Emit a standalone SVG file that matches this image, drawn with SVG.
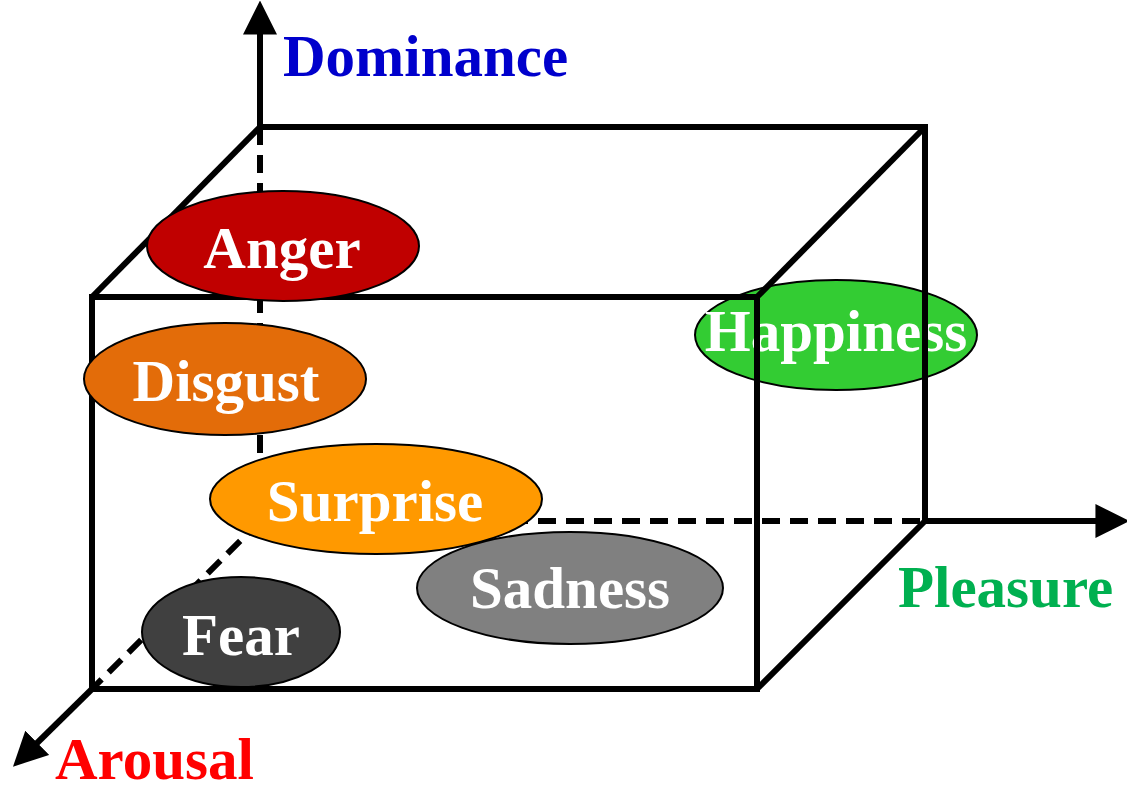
<svg xmlns="http://www.w3.org/2000/svg" width="1127" height="790" viewBox="0 0 1127 790">
<style>
.edge{stroke:#000;stroke-width:6;fill:none;stroke-linecap:butt;stroke-linejoin:miter}
.dash{stroke-dasharray:18 10}
.node{stroke:#000;stroke-width:2}
.lbl{font-family:"Liberation Serif","Times New Roman",serif;font-weight:bold;font-size:59px;fill:#fff;text-anchor:middle}
.axis{font-family:"Liberation Serif","Times New Roman",serif;font-weight:bold;font-size:59px}
</style>
<defs>
<marker id="arr" markerUnits="userSpaceOnUse" markerWidth="34" markerHeight="34" refX="4" refY="15" orient="auto" viewBox="0 0 30 30">
<path d="M0,0 L30,15 L0,30 z" fill="#000"/>
</marker>
</defs>
<rect width="1127" height="790" fill="#fff"/>
<g id="node-happiness">
<ellipse class="node" cx="836" cy="335" rx="141" ry="55" fill="#33CC33"/>
<text class="lbl" x="836" y="351">Happiness</text>
</g>
<g id="connectors">
<path class="edge" d="M260,127 H925 V521"/>
<path class="edge dash" d="M260,127 V521 H925"/>
<path class="edge" d="M92,297 H757 V689 H92 Z"/>
<path class="edge" d="M260,127 L92,297"/>
<path class="edge" d="M925,127 L757,297"/>
<path class="edge" d="M925,521 L757,689"/>
<path class="edge dash" d="M260,521 L92,689"/>
<path class="edge" d="M260,127 V30" marker-end="url(#arr)"/>
<path class="edge" d="M925,521 H1100" marker-end="url(#arr)"/>
<path class="edge" d="M92,689 L34,746" marker-end="url(#arr)"/>
</g>
<g id="axis-labels">
<text class="axis" x="283" y="76" fill="#0000CC">Dominance</text>
<text class="axis" x="898" y="607" fill="#00B050">Pleasure</text>
<text class="axis" x="55" y="779" fill="#FF0000">Arousal</text>
</g>
<g id="node-anger">
<ellipse class="node" cx="283" cy="246" rx="136" ry="55" fill="#C00000"/>
<text class="lbl" x="282" y="268">Anger</text>
</g>
<g id="node-disgust">
<ellipse class="node" cx="225" cy="379" rx="141" ry="56" fill="#E36C09"/>
<text class="lbl" x="226" y="401">Disgust</text>
</g>
<g id="node-surprise">
<ellipse class="node" cx="376" cy="499" rx="166" ry="55" fill="#FF9900"/>
<text class="lbl" x="375" y="521">Surprise</text>
</g>
<g id="node-sadness">
<ellipse class="node" cx="570" cy="588" rx="153" ry="56" fill="#808080"/>
<text class="lbl" x="570" y="608">Sadness</text>
</g>
<g id="node-fear">
<ellipse class="node" cx="241" cy="632" rx="99" ry="55" fill="#404040"/>
<text class="lbl" x="241" y="655">Fear</text>
</g>
</svg>
